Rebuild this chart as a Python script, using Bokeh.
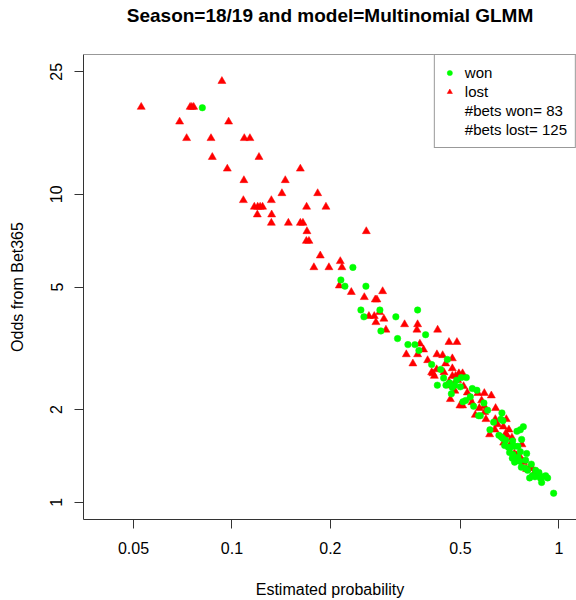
import math
from bokeh.plotting import figure
from bokeh.models import Range1d, FixedTicker, Legend, LegendItem, Span, ColumnDataSource, Title
from bokeh.embed import file_html
from bokeh.resources import INLINE

# ---- data ----
lost_prob = [0.0932, 0.0528, 0.0745, 0.0764, 0.0692, 0.0977, 0.0727, 0.0863, 0.1091, 0.1135,
             0.0871, 0.1210, 0.0968, 0.1619, 0.1088, 0.1456, 0.1422, 0.1829, 0.1084, 0.1320,
             0.1171, 0.1199, 0.1241, 0.1692, 0.1939, 0.1196, 0.1323, 0.1320, 0.1488, 0.1619,
             0.1649, 0.1696, 0.1689, 0.1720, 0.2576, 0.1863, 0.2145, 0.1781, 0.1980, 0.2170,
             0.2130, 0.2318, 0.2890, 0.2540, 0.2744, 0.2776, 0.2829, 0.2624, 0.2725, 0.2916,
             0.2756, 0.2958, 0.3373, 0.3697, 0.3679, 0.4257, 0.4611, 0.4876, 0.3757, 0.3856,
             0.3414, 0.3697, 0.4236, 0.4721, 0.4504, 0.3576, 0.4227, 0.4721, 0.4081, 0.4119,
             0.4159, 0.4451, 0.4945, 0.5075, 0.4721, 0.4831, 0.4611, 0.4689, 0.4755, 0.5111,
             0.4808, 0.5246, 0.5652, 0.5914, 0.6213, 0.4656, 0.4980, 0.5075, 0.5418, 0.5709,
             0.5914, 0.5926, 0.5549, 0.6403, 0.5981, 0.6390, 0.6904, 0.6761, 0.6372, 0.7032,
             0.6139, 0.6871, 0.6934, 0.7183, 0.6775, 0.7707, 0.7305, 0.7408, 0.7620, 0.8136,
             0.8292, 0.7966, 0.8667, 0.0754, 0.1220, 0.4410, 0.3967, 0.4900, 0.5331, 0.5802,
             0.6494, 0.7067, 0.7476, 0.7799, 0.8427]
lost_odds = [23.3, 19.2, 19.2, 19.2, 17.2, 17.2, 15.2, 15.2, 15.2, 15.2,
             13.2, 13.2, 12.1, 12.1, 11.1, 11.1, 10.07, 10.07, 9.56, 9.56,
             9.10, 9.10, 9.10, 9.10, 9.10, 8.59, 8.59, 8.07, 8.07, 8.07,
             8.07, 7.58, 7.05, 7.05, 7.58, 6.32, 6.06, 5.79, 5.79, 5.79,
             5.05, 4.81, 4.84, 4.63, 4.55, 4.55, 4.14, 4.02, 4.02, 3.94,
             3.84, 3.63, 3.78, 3.78, 3.63, 3.63, 3.31, 3.31, 3.27, 3.13,
             3.02, 3.02, 3.02, 2.93, 2.82, 2.82, 2.70, 2.72, 2.64, 2.62,
             2.57, 2.64, 2.62, 2.62, 2.57, 2.57, 2.46, 2.39, 2.40, 2.38,
             2.30, 2.27, 2.26, 2.26, 2.22, 2.16, 2.06, 2.06, 2.11, 2.02,
             2.05, 1.96, 1.92, 2.02, 1.86, 1.86, 1.86, 1.76, 1.72, 1.72,
             1.66, 1.67, 1.65, 1.62, 1.56, 1.54, 1.44, 1.42, 1.40, 1.29,
             1.29, 1.28, 1.22, 19.2, 9.10, 3.00, 2.89, 2.49, 2.18, 2.14,
             1.79, 1.53, 1.36, 1.35, 1.25]

won_prob = [0.0812, 0.2344, 0.2154, 0.2216, 0.2569, 0.2480, 0.2835, 0.2533, 0.3172, 0.2855,
            0.3210, 0.3697, 0.3911, 0.3453, 0.3627, 0.3731, 0.4559, 0.4081, 0.4348, 0.5029,
            0.5209, 0.4633, 0.4514, 0.4248, 0.5434, 0.4721, 0.5613, 0.4689, 0.5358, 0.5184,
            0.5086, 0.5483, 0.5897, 0.5680, 0.5749, 0.6694, 0.6647, 0.6741, 0.6152, 0.7440,
            0.7620, 0.7783, 0.6554, 0.6666, 0.6741, 0.7690, 0.7003, 0.7102, 0.7320, 0.7492,
            0.7067, 0.7233, 0.7620, 0.7966, 0.7492, 0.7582, 0.7674, 0.7893, 0.8234, 0.8292,
            0.8445, 0.8685, 0.8772, 0.9106, 0.8853, 0.9634, 0.4798, 0.4994, 0.4866, 0.4441,
            0.6053, 0.6314, 0.6871, 0.7218, 0.6822, 0.7203, 0.7910, 0.8022, 0.8485, 0.8916,
            0.9235, 0.8136, 0.7320]
won_odds = [19.1, 5.79, 5.27, 5.03, 5.03, 4.21, 4.21, 4.00, 4.00, 3.60,
            3.40, 4.21, 3.50, 3.25, 3.25, 3.11, 2.91, 2.80, 2.70, 2.54,
            2.54, 2.44, 2.40, 2.40, 2.34, 2.36, 2.31, 2.25, 2.20, 2.14,
            2.12, 2.05, 2.10, 1.91, 1.91, 1.95, 1.86, 1.84, 1.72, 1.70,
            1.72, 1.76, 1.65, 1.63, 1.61, 1.60, 1.51, 1.51, 1.52, 1.52,
            1.45, 1.43, 1.46, 1.44, 1.40, 1.36, 1.30, 1.29, 1.33, 1.22,
            1.21, 1.25, 1.20, 1.22, 1.16, 1.07, 2.40, 2.37, 2.49, 2.53,
            1.99, 1.82, 1.59, 1.58, 1.53, 1.39, 1.37, 1.27, 1.27, 1.21,
            1.20, 1.20, 1.35]

x_ticks = [0.05, 0.1, 0.2, 0.5, 1]
x_tick_labels = ["0.05", "0.1", "0.2", "0.5", "1"]
y_ticks = [1, 2, 5, 10, 25]
y_tick_labels = ["1", "2", "5", "10", "25"]

title_text = "Season=18/19 and model=Multinomial GLMM"
x_title = "Estimated probability"
y_title = "Odds from Bet365"

# ---- ranges: R-style 4% extension of the log limits ----
XLIM = (0.04, 1.0)
YLIM = (1.0, 25.0)
xs = math.log10(XLIM[0]) - 0.04 * (math.log10(XLIM[1]) - math.log10(XLIM[0]))
ys = math.log10(YLIM[0]) - 0.04 * (math.log10(YLIM[1]) - math.log10(YLIM[0]))
ye = math.log10(YLIM[1]) + 0.04 * (math.log10(YLIM[1]) - math.log10(YLIM[0]))
x_start = 10 ** xs
x_end = 10 ** (xs + 1.5076)   # the original frame runs past the right edge of the picture
y_start = 10 ** ys
y_end = 10 ** ye

FONT = "Liberation Sans"
LINE = "#333333"

p = figure(width=576, height=600, output_backend="svg", toolbar_location=None, title=None,
           x_axis_type="log", y_axis_type="log",
           x_range=Range1d(x_start, x_end), y_range=Range1d(y_start, y_end),
           min_border_left=83, min_border_right=0, min_border_top=54, min_border_bottom=81)
p.background_fill_color = "white"
p.border_fill_color = "white"
p.outline_line_color = None
p.grid.visible = False

# spacer (closest to the frame) then the main title further out
p.add_layout(Title(text=" ", text_font_size="1px", standoff=26), "above")
p.add_layout(Title(text=title_text, text_font=FONT, text_font_size="19px",
                   text_font_style="bold", text_color="black", align="center",
                   standoff=0), "above")

for ax, ticks, labels in ((p.xaxis[0], x_ticks, x_tick_labels), (p.yaxis[0], y_ticks, y_tick_labels)):
    ax.ticker = FixedTicker(ticks=ticks, minor_ticks=[])
    ax.major_label_overrides = {t: l for t, l in zip(ticks, labels)}
    ax.major_label_text_font = FONT
    ax.major_label_text_font_size = "16px"
    ax.major_label_text_color = "black"
    ax.axis_label_text_font = FONT
    ax.axis_label_text_font_size = "16px"
    ax.axis_label_text_font_style = "normal"
    ax.axis_label_text_color = "black"
    ax.axis_line_color = LINE
    ax.major_tick_line_color = LINE
    ax.major_tick_out = 9
    ax.major_tick_in = 0
    ax.minor_tick_line_color = None

p.xaxis.axis_label = x_title
p.yaxis.axis_label = y_title
p.xaxis.major_label_standoff = 13
p.yaxis.major_label_standoff = 12
p.xaxis.axis_label_standoff = 24
p.yaxis.axis_label_standoff = 22
p.yaxis.major_label_orientation = "vertical"

p.add_layout(Span(location=y_end, dimension="width", line_color=LINE, line_width=1))

lost_src = ColumnDataSource(dict(x=lost_prob, y=lost_odds))
won_src = ColumnDataSource(dict(x=won_prob, y=won_odds))
r_lost = p.scatter("x", "y", source=lost_src, marker="triangle", size=8,
                   fill_color="#FF0000", line_color="#FF0000", line_width=0.5)
r_won = p.scatter("x", "y", source=won_src, marker="circle", size=6.5,
                  fill_color="#00FF00", line_color="#00FF00", line_width=0.5)
r_blank = p.scatter(x=[], y=[], marker="circle", size=1, fill_alpha=0, line_alpha=0)

legend = Legend(items=[
    LegendItem(label="won", renderers=[r_won]),
    LegendItem(label="lost", renderers=[r_lost]),
    LegendItem(label="#bets won= %d" % len(won_prob), renderers=[r_blank]),
    LegendItem(label="#bets lost= %d" % len(lost_prob), renderers=[r_blank]),
], location="top_right")
legend.margin = 0
legend.padding = 8
legend.spacing = 0
legend.label_height = 19
legend.glyph_height = 19
legend.glyph_width = 13
legend.label_standoff = 9
legend.label_text_font = FONT
legend.label_text_font_size = "15px"
legend.label_text_color = "black"
legend.border_line_color = LINE
legend.border_line_width = 1
legend.background_fill_color = "white"
legend.background_fill_alpha = 1
p.add_layout(legend)

open("out.html", "w").write(file_html(p, INLINE))
